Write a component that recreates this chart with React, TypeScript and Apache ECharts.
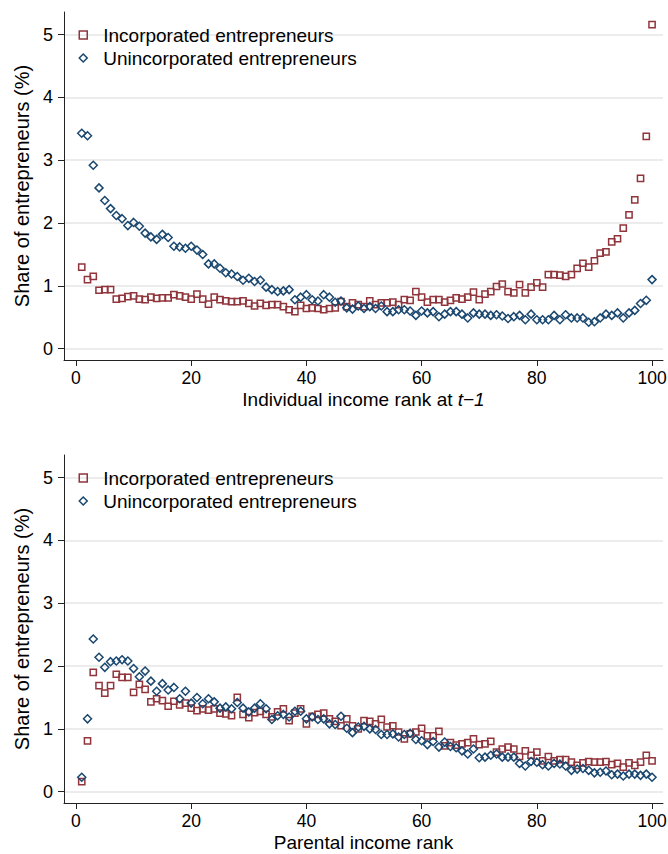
import React, { useEffect, useRef } from "react";
import * as echarts from "echarts";

const ranks: number[] = Array.from({ length: 100 }, (_, i) => i + 1);

const topIncorporated: number[] = [
  1.30, 1.10, 1.15, 0.93, 0.94, 0.94, 0.79, 0.80, 0.83, 0.84,
  0.79, 0.78, 0.82, 0.80, 0.81, 0.81, 0.86, 0.84, 0.82, 0.79,
  0.87, 0.79, 0.71, 0.82, 0.78, 0.76, 0.75, 0.75, 0.76, 0.72,
  0.68, 0.72, 0.69, 0.70, 0.70, 0.67, 0.62, 0.59, 0.69, 0.64,
  0.65, 0.64, 0.62, 0.64, 0.65, 0.75, 0.67, 0.73, 0.70, 0.67,
  0.76, 0.70, 0.73, 0.73, 0.74, 0.70, 0.78, 0.77, 0.91, 0.82,
  0.74, 0.78, 0.78, 0.74, 0.77, 0.81, 0.79, 0.82, 0.90, 0.78,
  0.87, 0.91, 0.99, 1.03, 0.91, 0.89, 1.02, 0.89, 0.98, 1.05,
  0.98, 1.18, 1.18, 1.17, 1.15, 1.18, 1.28, 1.36, 1.30, 1.40,
  1.52, 1.54, 1.70, 1.75, 1.92, 2.13, 2.37, 2.71, 3.38, 5.16,
];

const topUnincorporated: number[] = [
  3.43, 3.39, 2.92, 2.56, 2.36, 2.23, 2.12, 2.07, 1.96, 2.01,
  1.95, 1.84, 1.78, 1.74, 1.82, 1.77, 1.63, 1.62, 1.60, 1.63,
  1.57, 1.50, 1.35, 1.35, 1.28, 1.21, 1.19, 1.15, 1.09, 1.12,
  1.07, 1.09, 0.98, 0.94, 0.91, 0.92, 0.94, 0.78, 0.82, 0.86,
  0.78, 0.76, 0.86, 0.82, 0.74, 0.76, 0.65, 0.63, 0.68, 0.64,
  0.67, 0.64, 0.68, 0.59, 0.59, 0.62, 0.62, 0.60, 0.53, 0.60,
  0.57, 0.59, 0.51, 0.55, 0.59, 0.59, 0.55, 0.49, 0.57, 0.55,
  0.55, 0.53, 0.54, 0.52, 0.48, 0.51, 0.53, 0.46, 0.55, 0.46,
  0.46, 0.46, 0.53, 0.46, 0.54, 0.49, 0.49, 0.49, 0.42, 0.43,
  0.49, 0.55, 0.53, 0.57, 0.49, 0.57, 0.61, 0.72, 0.77, 1.10,
];

const bottomIncorporated: number[] = [
  0.16, 0.81, 1.90, 1.69, 1.57, 1.69, 1.87, 1.82, 1.82, 1.58,
  1.71, 1.63, 1.43, 1.48, 1.45, 1.36, 1.44, 1.38, 1.41, 1.33,
  1.29, 1.32, 1.30, 1.32, 1.25, 1.24, 1.21, 1.50, 1.23, 1.18,
  1.26, 1.28, 1.23, 1.19, 1.27, 1.32, 1.13, 1.25, 1.32, 1.08,
  1.20, 1.23, 1.25, 1.16, 1.12, 1.05, 1.16, 1.05, 1.00, 1.13,
  1.12, 1.08, 1.15, 1.03, 1.05, 0.95, 0.84, 0.92, 0.95, 1.01,
  0.89, 0.89, 0.96, 0.73, 0.78, 0.74, 0.76, 0.78, 0.84, 0.75,
  0.76, 0.80, 0.63, 0.68, 0.71, 0.68, 0.56, 0.65, 0.58, 0.63,
  0.49, 0.56, 0.49, 0.51, 0.51, 0.47, 0.42, 0.46, 0.48, 0.47,
  0.47, 0.48, 0.43, 0.45, 0.39, 0.46, 0.42, 0.47, 0.58, 0.49,
];

const bottomUnincorporated: number[] = [
  0.23, 1.16, 2.43, 2.14, 1.98, 2.07, 2.08, 2.10, 2.08, 1.96,
  1.83, 1.92, 1.76, 1.60, 1.72, 1.62, 1.66, 1.48, 1.60, 1.41,
  1.50, 1.40, 1.48, 1.43, 1.33, 1.35, 1.32, 1.42, 1.33, 1.27,
  1.33, 1.40, 1.32, 1.15, 1.21, 1.23, 1.19, 1.28, 1.28, 1.16,
  1.19, 1.15, 1.16, 1.08, 1.07, 1.20, 1.01, 0.94, 1.03, 1.04,
  1.00, 0.99, 0.91, 0.91, 0.92, 0.87, 0.91, 0.93, 0.83, 0.81,
  0.75, 0.80, 0.71, 0.79, 0.72, 0.70, 0.65, 0.60, 0.68, 0.54,
  0.55, 0.58, 0.60, 0.55, 0.55, 0.55, 0.45, 0.41, 0.48, 0.47,
  0.43, 0.41, 0.45, 0.44, 0.41, 0.34, 0.36, 0.37, 0.34, 0.30,
  0.31, 0.33, 0.27, 0.28, 0.25, 0.28, 0.28, 0.26, 0.28, 0.23,
];

const xTicks: number[] = [0, 20, 40, 60, 80, 100];
const yTicks: number[] = [0, 1, 2, 3, 4, 5];
const seriesNames: string[] = ["Incorporated entrepreneurs", "Unincorporated entrepreneurs"];
const xTitles: string[] = ["Individual income rank at {i|t\u22121}", "Parental income rank"];
const yTitle = "Share of entrepreneurs (%)";

const MAROON = "#90353b";
const NAVY = "#1a476f";
const FONT = "'Liberation Sans', Arial, Helvetica, sans-serif";

function pairs(vals: number[]): number[][] {
  return ranks.map((r, i) => [r, vals[i]]);
}

export default function App() {
  const ref = useRef<HTMLDivElement>(null);
  useEffect(() => {
    if (!ref.current) return;
    const chart = echarts.init(ref.current, null, { renderer: "svg" });
    const gridTops = [12, 455];
    const makeX = (gi: number) => ({
      type: "value",
      gridIndex: gi,
      min: -2.08,
      max: 101.9,
      name: xTitles[gi],
      nameLocation: "middle",
      nameGap: 31.5,
      nameMoveOverlap: false,
      nameTextStyle: {
        fontFamily: FONT,
        fontSize: 19,
        lineHeight: 16,
        color: "#000",
        rich: { i: { fontFamily: FONT, fontSize: 19, lineHeight: 16, fontStyle: "italic", color: "#000" } },
      },
      axisLine: { show: true, onZero: false, lineStyle: { color: "#222", width: 1 } },
      axisTick: { show: true, length: 6, customValues: xTicks, lineStyle: { color: "#222", width: 1 } },
      axisLabel: { customValues: xTicks, margin: 11, lineHeight: 14, fontFamily: FONT, fontSize: 17.5, color: "#000" },
      splitLine: { show: false },
    });
    const makeY = (gi: number) => ({
      type: "value",
      gridIndex: gi,
      min: -0.18,
      max: 5.36,
      name: yTitle,
      nameLocation: "middle",
      nameGap: 30,
      nameRotate: 90,
      nameTextStyle: { fontFamily: FONT, fontSize: 20, color: "#000" },
      axisLine: { show: true, onZero: false, lineStyle: { color: "#222", width: 1 } },
      axisTick: { show: true, length: 6, customValues: yTicks, lineStyle: { color: "#222", width: 1 } },
      axisLabel: { customValues: yTicks, margin: 11, fontFamily: FONT, fontSize: 18, color: "#000" },
      splitLine: { show: true, lineStyle: { color: "#e6e6e6", width: 1.6 } },
    });
    const makeSeries = (gi: number, name: string, vals: number[], isInc: boolean) => ({
      type: "scatter",
      name,
      xAxisIndex: gi,
      yAxisIndex: gi,
      data: pairs(vals),
      symbol: isInc ? "rect" : "diamond",
      symbolSize: isInc ? 6.2 : 8,
      itemStyle: {
        color: "rgba(255,255,255,0)",
        borderColor: isInc ? MAROON : NAVY,
        borderWidth: 1.5,
        opacity: 1,
      },
      emphasis: { disabled: true },
      silent: true,
      z: isInc ? 2 : 3,
    });
    const makeLegend = (gi: number) => ({
      show: true,
      orient: "vertical",
      left: 78.5,
      top: gridTops[gi] + 13.5,
      padding: 0,
      itemWidth: 8,
      itemHeight: 8,
      itemGap: 4,
      selectedMode: false,
      data: [
        { name: seriesNames[0], icon: "rect", itemStyle: { color: "rgba(255,255,255,0)", borderColor: MAROON, borderWidth: 1.5 } },
        { name: seriesNames[1], icon: "diamond", itemStyle: { color: "rgba(255,255,255,0)", borderColor: NAVY, borderWidth: 1.5 } },
      ],
      textStyle: { fontFamily: FONT, fontSize: 19, color: "#000", lineHeight: 19, padding: [0, 0, 0, 11] },
    });
    chart.setOption({
      animation: false,
      backgroundColor: "#ffffff",
      grid: gridTops.map((t) => ({ left: 64, top: t, width: 599, height: 348, outerBoundsMode: "none" })),
      xAxis: [makeX(0), makeX(1)],
      yAxis: [makeY(0), makeY(1)],
      legend: [makeLegend(0), makeLegend(1)],
      series: [
        makeSeries(0, seriesNames[0], topIncorporated, true),
        makeSeries(0, seriesNames[1], topUnincorporated, false),
        makeSeries(1, seriesNames[0], bottomIncorporated, true),
        makeSeries(1, seriesNames[1], bottomUnincorporated, false),
      ],
    });
    return () => chart.dispose();
  }, []);
  return (
    <div
      ref={ref}
      style={{ position: "absolute", left: 0, top: 0, width: 668, height: 854, background: "#fff" }}
    />
  );
}
